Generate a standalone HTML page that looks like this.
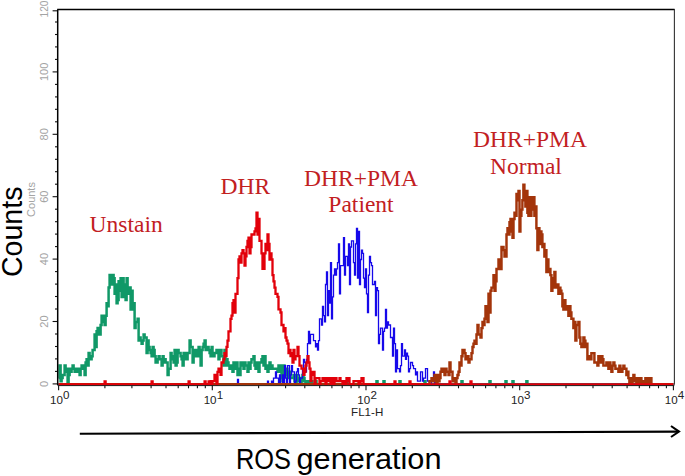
<!DOCTYPE html>
<html><head><meta charset="utf-8"><style>
html,body{margin:0;padding:0;background:#fff;}
body{width:685px;height:476px;overflow:hidden;font-family:"Liberation Sans",sans-serif;}
svg{display:block;}
.sans{font-family:"Liberation Sans",sans-serif;}
.serif{font-family:"Liberation Serif",serif;}
</style></head><body>
<svg width="685" height="476" viewBox="0 0 685 476">
<rect width="685" height="476" fill="#fff"/>
<g fill="none" stroke-linejoin="miter" stroke-linecap="butt">
<path d="M58.6,378.1H59.6V365.6H60.6V381.2H61.6V378.1H62.6V374.9H63.6V374.9H64.6V365.6H65.6V371.8H66.6V368.7H67.6V384.3H68.6V374.9H69.6V368.7H70.6V371.8H71.6V368.7H72.6V365.6H73.6V368.7H74.6V371.8H75.6V368.7H76.6V371.8H77.6V368.7H78.6V368.7H79.6V374.9H80.6V368.7H81.6V365.6H82.6V365.6H83.6V368.7H84.6V374.9H85.6V362.5H86.6V359.3H87.6V365.6H88.6V353.1H89.6V356.2H90.6V359.3H91.6V356.2H92.6V350.0H93.6V350.0H94.6V334.4H95.6V346.9H96.6V331.3H97.6V328.1H98.6V334.4H99.6V334.4H100.6V325.0H101.6V315.7H102.6V321.9H103.6V315.7H104.6V325.0H105.6V315.7H106.6V303.2H107.6V306.3H108.6V287.6H109.6V275.1H110.6V284.5H111.6V284.5H112.6V275.1H113.6V278.2H114.6V293.8H115.6V284.5H116.6V303.2H117.6V300.1H118.6V281.3H119.6V290.7H120.6V278.2H121.6V296.9H122.6V278.2H123.6V284.5H124.6V296.9H125.6V300.1H126.6V278.2H127.6V287.6H128.6V293.8H129.6V287.6H130.6V309.4H131.6V290.7H132.6V309.4H133.6V303.2H134.6V328.1H135.6V321.9H136.6V321.9H137.6V318.8H138.6V340.6H139.6V337.5H140.6V340.6H141.6V343.7H142.6V340.6H143.6V334.4H144.6V337.5H145.6V337.5H146.6V353.1H147.6V340.6H148.6V346.9H149.6V350.0H150.6V353.1H151.6V356.2H152.6V346.9H153.6V350.0H154.6V356.2H155.6V362.5H156.6V362.5H157.6V359.3H158.6V356.2H159.6V359.3H160.6V359.3H161.6V365.6H162.6V356.2H163.6V362.5H164.6V359.3H165.6V362.5H166.6V362.5H167.6V374.9H168.6V368.7H169.6V368.7H170.6V353.1H171.6V359.3H172.6V356.2H173.6V362.5H174.6V350.0H175.6V365.6H176.6V362.5H177.6V350.0H178.6V353.1H179.6V353.1H180.6V356.2H181.6V359.3H182.6V365.6H183.6V353.1H184.6V359.3H185.6V353.1H186.6V359.3H187.6V353.1H188.6V353.1H189.6V340.6H190.6V346.9H191.6V346.9H192.6V362.5H193.6V356.2H194.6V350.0H195.6V350.0H196.6V356.2H197.6V350.0H198.6V346.9H199.6V356.2H200.6V365.6H201.6V350.0H202.6V346.9H203.6V343.7H204.6V340.6H205.6V350.0H206.6V350.0H207.6V346.9H208.6V350.0H209.6V353.1H210.6V356.2H211.6V346.9H212.5V353.1H213.5V356.2H214.5V353.1H215.5V353.1H216.5V350.0H217.5V353.1H218.5V359.3H219.5V350.0H220.5V350.0H221.5V356.2H222.5V356.2H223.5V365.6H224.5V350.0H225.5V365.6H226.5V359.3H227.5V362.5H228.5V365.6H229.5V368.7H230.5V368.7H231.5V365.6H232.5V371.8H233.5V362.5H234.5V362.5H235.5V368.7H236.5V362.5H237.5V374.9H238.5V368.7H239.5V374.9H240.5V362.5H241.5V362.5H242.5V365.6H243.5V368.7H244.5V362.5H245.5V365.6H246.5V365.6H247.5V371.8H248.5V362.5H249.5V368.7H250.5V362.5H251.5V359.3H252.5V359.3H253.5V356.2H254.5V365.6H255.5V368.7H256.5V362.5H257.5V365.6H258.5V371.8H259.5V362.5H260.5V362.5H261.5V359.3H262.5V356.2H263.5V365.6H264.5V356.2H265.5V368.7H266.5V365.6H267.5V371.8H268.5V365.6H269.5V362.5H270.5V368.7H271.5V365.6H272.5V368.7H273.5V368.7H274.5V368.7H275.5V368.7H276.5V368.7H277.5V371.8H278.5V365.6H279.5V371.8H280.5V365.6H281.5V378.1H282.5V381.2H283.5V365.6H284.5V374.9H285.5V374.9H286.5V368.7H287.5V378.1H288.5V374.9H289.5V371.8H290.5V378.1H291.5V378.1H292.5V378.1H293.5V374.9H294.5V381.2H295.5V384.3H296.5V374.9H297.5V378.1H298.5V381.2H299.5V378.1H300.5V384.3H301.5V381.2H302.5V374.9H303.5V378.1H304.5V381.2H305.5V384.3H306.5V381.2H307.5V381.2H308.5V384.3H309.5V381.2H310.5V384.3H311.5V381.2H312.5V384.3H313.5V384.3H314.5V384.3H315.5V381.2H316.5V384.3H317.5V384.3H318.5V384.3H319.5V384.3H320.5V384.3H321.5V384.3H322.5V384.3H323.5V384.3H324.5V384.3H325.5V384.3H326.5V384.3H327.5V384.3H328.5V384.3H329.5V384.3H330.5V384.3H331.5V384.3H332.5V384.3H333.5V384.3H334.5V384.3H335.5V384.3H336.5V384.3H337.5V384.3H338.5V384.3H339.5V384.3H340.5V384.3H341.5V384.3H342.5V384.3H343.5V384.3H344.5V384.3H345.5V384.3H346.5V381.3H347.5V384.3H348.5V384.3H349.5V384.3H350.5V384.3H351.5V384.3H352.5V384.3H353.5V384.3H354.5V384.3H355.5V384.3H356.5V384.3H357.5V384.3H358.5V384.3H359.5V384.3H360.5V384.3H361.5V384.3H362.5V384.3H363.5V384.3H364.5V384.3H365.5V384.3H366.5V384.3H367.5V384.3H368.5V384.3H369.5V384.3H370.5V384.3H371.5V384.3H372.5V384.3H373.5V384.3H374.5V384.3H375.5V384.3H376.5V381.3H377.5V384.3H378.5V384.3H379.5V384.3H380.5V384.3H381.5V384.3H382.5V384.3H383.5V381.3H384.5V384.3H385.5V384.3H386.5V384.3H387.5V384.3H388.5V384.3H389.5V384.3H390.5V384.3H391.5V384.3H392.5V384.3H393.5V384.3H394.5V384.3H395.5V384.3H396.5V384.3H397.5V384.3H398.5V384.3H399.5V381.3H400.5V384.3H401.5V384.3H402.5V384.3H403.5V384.3H404.5V384.3H405.5V384.3H406.5V384.3H407.5V384.3H408.5V384.3H409.5V384.3H410.5V384.3H411.5V384.3H412.5V384.3H413.5V384.3H414.5V384.3H415.5V384.3H416.5V384.3H417.5V384.3H418.5V384.3H419.5V384.3H420.5V384.3H421.5V384.3H422.5V384.3H423.5V384.3H424.5V381.3H425.5V384.3H426.5V384.3H427.5V384.3H428.5V384.3H429.5V384.3H430.5V384.3H431.5V384.3H432.5V384.3H433.5V384.3H434.5V384.3H435.5V384.3H436.5V384.3H437.5V384.3H438.5V384.3H439.5V384.3H440.5V384.3H441.5V384.3H442.5V384.3H443.5V384.3H444.5V384.3H445.5V384.3H446.5V384.3H447.5V384.3H448.5V384.3H449.5V384.3H450.5V384.3H451.5V384.3H452.5V384.3H453.5V384.3H454.5V384.3H455.5V384.3H456.5V384.3H457.5V384.3H458.5V384.3H459.5V384.3H460.5V384.3H461.5V381.3H462.5V384.3H463.5V384.3H464.5V384.3H465.5V384.3H466.5V384.3H467.5V384.3H468.5V384.3H469.5V384.3H470.5V384.3H471.5V384.3H472.5V384.3H473.5V384.3H474.5V384.3H475.5V384.3H476.5V384.3H477.5V384.3H478.5V384.3H479.5V384.3H480.5V384.3H481.5V384.3H482.5V384.3H483.5V384.3H484.5V384.3H485.5V384.3H486.5V384.3H487.5V384.3H488.5V384.3H489.5V381.3H490.5V384.3H491.5V384.3H492.5V384.3H493.5V384.3H494.5V384.3H495.5V384.3H496.5V384.3H497.5V384.3H498.5V384.3H499.5V384.3H500.5V384.3H501.5V384.3H502.5V384.3H503.5V384.3H504.5V384.3H505.5V381.3H506.5V384.3H507.5V384.3H508.5V384.3H509.5V384.3H510.5V384.3H511.5V384.3H512.5V381.3H513.5V384.3H514.5V384.3H515.5V384.3H516.5V384.3H517.5V384.3H518.5V384.3H519.5V384.3H520.4V384.3H521.4V384.3H522.4V384.3H523.4V384.3H524.4V384.3H525.4V384.3H526.4V381.3H527.4V384.3H528.4V384.3H529.4V384.3H530.4V384.3H531.4V384.3H532.4V384.3H533.4V384.3H534.4V384.3H535.4V384.3H536.4V384.3H537.4V384.3H538.4V384.3H539.4V384.3H540.4V384.3H541.4V384.3H542.4V384.3H543.4V384.3H544.4V384.3H545.4V384.3H546.4V384.3H547.4V384.3H548.4V384.3H549.4V384.3H550.4V384.3H551.4V384.3H552.4V384.3H553.4V384.3H554.4V384.3H555.4V384.3H556.4V384.3H557.4V384.3H558.4V384.3H559.4V384.3H560.4V384.3H561.4V384.3H562.4V384.3H563.4V384.3H564.4V384.3H565.4V384.3H566.4V384.3H567.4V384.3H568.4V384.3H569.4V384.3H570.4V384.3H571.4V384.3H572.4V384.3H573.4V384.3H574.4V384.3H575.4V384.3H576.4V384.3H577.4V384.3H578.4V384.3H579.4V384.3H580.4V384.3H581.4V384.3H582.4V384.3H583.4V384.3H584.4V384.3H585.4V384.3H586.4V384.3H587.4V384.3H588.4V384.3H589.4V384.3H590.4V384.3H591.4V384.3H592.4V384.3H593.4V384.3H594.4V384.3H595.4V384.3H596.4V384.3H597.4V384.3H598.4V384.3H599.4V384.3H600.4V384.3H601.4V384.3H602.4V384.3H603.4V384.3H604.4V384.3H605.4V384.3H606.4V384.3H607.4V384.3H608.4V384.3H609.4V384.3H610.4V384.3H611.4V384.3H612.4V384.3H613.4V384.3H614.4V384.3H615.4V384.3H616.4V384.3H617.4V384.3H618.4V384.3H619.4V384.3H620.4V384.3H621.4V384.3H622.4V384.3H623.4V384.3H624.4V384.3H625.4V384.3H626.4V384.3H627.4V384.3H628.4V384.3H629.4V384.3H630.4V384.3H631.4V384.3H632.4V384.3H633.4V384.3H634.4V384.3H635.4V384.3H636.4V384.3H637.4V384.3H638.4V384.3H639.4V384.3H640.4V384.3H641.4V384.3H642.4V384.3H643.4V384.3H644.4V384.3H645.4V384.3H646.4V384.3H647.4V384.3H648.4V384.3H649.4V384.3H650.4V384.3H651.4V384.3H652.4V384.3H653.4V384.3H654.4V384.3H655.4V384.3H656.4V384.3H657.4V384.3H658.4V384.3H659.4V384.3H660.4V384.3H661.4V384.3H662.4V384.3H663.4V384.3H664.4V384.3H665.4V384.3H666.4V384.3H667.4V384.3H668.4V384.3H669.4V384.3H670.4V384.3H671.4V384.3H672.4V384.3H673.4" stroke="#109867" stroke-width="2.5"/>
<path d="M58.6,384.3H59.6V384.3H60.6V384.3H61.6V384.3H62.6V384.3H63.6V384.3H64.6V384.3H65.6V384.3H66.6V384.3H67.6V384.3H68.6V384.3H69.6V384.3H70.6V384.3H71.6V384.3H72.6V384.3H73.6V384.3H74.6V384.3H75.6V384.3H76.6V384.3H77.6V384.3H78.6V384.3H79.6V384.3H80.6V384.3H81.6V384.3H82.6V384.3H83.6V384.3H84.6V384.3H85.6V384.3H86.6V384.3H87.6V384.3H88.6V384.3H89.6V384.3H90.6V384.3H91.6V384.3H92.6V384.3H93.6V384.3H94.6V384.3H95.6V384.3H96.6V384.3H97.6V384.3H98.6V384.3H99.6V384.3H100.6V384.3H101.6V384.3H102.6V384.3H103.6V384.3H104.6V384.3H105.6V384.3H106.6V384.3H107.6V384.3H108.6V384.3H109.6V384.3H110.6V384.3H111.6V384.3H112.6V384.3H113.6V384.3H114.6V384.3H115.6V384.3H116.6V384.3H117.6V384.3H118.6V384.3H119.6V384.3H120.6V384.3H121.6V384.3H122.6V384.3H123.6V384.3H124.6V384.3H125.6V384.3H126.6V384.3H127.6V384.3H128.6V384.3H129.6V384.3H130.6V384.3H131.6V384.3H132.6V384.3H133.6V384.3H134.6V384.3H135.6V384.3H136.6V384.3H137.6V384.3H138.6V384.3H139.6V384.3H140.6V384.3H141.6V384.3H142.6V384.3H143.6V384.3H144.6V384.3H145.6V384.3H146.6V384.3H147.6V384.3H148.6V384.3H149.6V384.3H150.6V384.3H151.6V384.3H152.6V384.3H153.6V384.3H154.6V384.3H155.6V384.3H156.6V384.3H157.6V384.3H158.6V384.3H159.6V384.3H160.6V384.3H161.6V384.3H162.6V384.3H163.6V384.3H164.6V384.3H165.6V384.3H166.6V384.3H167.6V384.3H168.6V384.3H169.6V384.3H170.6V384.3H171.6V384.3H172.6V384.3H173.6V384.3H174.6V384.3H175.6V384.3H176.6V384.3H177.6V384.3H178.6V384.3H179.6V384.3H180.6V384.3H181.6V384.3H182.6V384.3H183.6V384.3H184.6V384.3H185.6V384.3H186.6V384.3H187.6V384.3H188.6V384.3H189.6V384.3H190.6V384.3H191.6V384.3H192.6V384.3H193.6V384.3H194.6V384.3H195.6V384.3H196.6V384.3H197.6V384.3H198.6V384.3H199.6V384.3H200.6V384.3H201.6V384.3H202.6V384.3H203.6V384.3H204.6V384.3H205.6V384.3H206.6V384.3H207.6V384.3H208.6V384.3H209.6V384.3H210.6V384.3H211.6V384.3H212.5V384.3H213.5V384.3H214.5V384.3H215.5V384.3H216.5V384.3H217.5V384.3H218.5V384.3H219.5V384.3H220.5V384.3H221.5V384.3H222.5V384.3H223.5V384.3H224.5V384.3H225.5V384.3H226.5V384.3H227.5V384.3H228.5V384.3H229.5V384.3H230.5V384.3H231.5V384.3H232.5V384.3H233.5V384.3H234.5V384.3H235.5V384.3H236.5V384.3H237.5V379.3H238.5V384.3H239.5V384.3H240.5V384.3H241.5V384.3H242.5V384.3H243.5V384.3H244.5V384.3H245.5V384.3H246.5V384.3H247.5V384.3H248.5V384.3H249.5V384.3H250.5V384.3H251.5V384.3H252.5V384.3H253.5V384.3H254.5V384.3H255.5V384.3H256.5V384.3H257.5V384.3H258.5V384.3H259.5V384.3H260.5V384.3H261.5V384.3H262.5V384.3H263.5V384.3H264.5V384.3H265.5V384.3H266.5V384.3H267.5V381.2H268.5V384.3H269.5V384.3H270.5V384.3H271.5V381.2H272.5V384.3H273.5V378.1H274.5V378.1H275.5V371.8H276.5V378.1H277.5V378.1H278.5V384.3H279.5V374.9H280.5V384.3H281.5V384.3H282.5V374.9H283.5V384.3H284.5V365.6H285.5V378.1H286.5V384.3H287.5V365.6H288.5V365.6H289.5V384.3H290.5V374.9H291.5V365.6H292.5V371.8H293.5V371.8H294.5V384.3H295.5V381.2H296.5V371.8H297.5V368.7H298.5V374.9H299.5V384.3H300.5V378.1H301.5V378.1H302.5V368.7H303.5V359.3H304.5V362.5H305.5V371.8H306.5V359.3H307.5V343.7H308.5V331.3H309.5V343.7H310.5V334.4H311.5V334.4H312.5V334.4H313.5V340.6H314.5V340.6H315.5V346.9H316.5V343.7H317.5V350.0H318.5V340.6H319.5V318.8H320.5V318.8H321.5V325.0H322.5V306.3H323.5V315.7H324.5V321.9H325.5V284.5H326.5V272.0H327.5V315.7H328.5V290.7H329.5V303.2H330.5V262.6H331.5V318.8H332.5V296.9H333.5V275.1H334.5V268.9H335.5V275.1H336.5V268.9H337.5V262.6H338.5V243.9H339.5V293.8H340.5V265.7H341.5V265.7H342.5V265.7H343.5V237.7H344.5V275.1H345.5V256.4H346.5V256.4H347.5V265.7H348.5V243.9H349.5V284.5H350.5V247.0H351.5V240.8H352.5V240.8H353.5V262.6H354.5V275.1H355.5V243.9H356.5V228.3H357.5V278.2H358.5V231.4H359.5V284.5H360.5V259.5H361.5V250.1H362.5V253.3H363.5V278.2H364.5V287.6H365.5V268.9H366.5V293.8H367.5V312.5H368.5V275.1H369.5V256.4H370.5V262.6H371.5V265.7H372.5V284.5H373.5V284.5H374.5V281.3H375.5V315.7H376.5V287.6H377.5V290.7H378.5V343.7H379.5V334.4H380.5V328.1H381.5V328.1H382.5V350.0H383.5V331.3H384.5V328.1H385.5V309.4H386.5V328.1H387.5V321.9H388.5V325.0H389.5V325.0H390.5V337.5H391.5V337.5H392.5V356.2H393.5V328.1H394.5V343.7H395.5V371.8H396.5V350.0H397.5V368.7H398.5V368.7H399.5V371.8H400.5V365.6H401.5V343.7H402.5V356.2H403.5V356.2H404.5V350.0H405.5V359.3H406.5V353.1H407.5V356.2H408.5V371.8H409.5V368.7H410.5V362.5H411.5V362.5H412.5V365.6H413.5V368.7H414.5V368.7H415.5V374.9H416.5V371.8H417.5V381.2H418.5V381.2H419.5V381.2H420.5V371.8H421.5V371.8H422.5V381.2H423.5V378.1H424.5V378.1H425.5V368.7H426.5V368.7H427.5V381.2H428.5V381.2H429.5V384.3H430.5V384.3H431.5V381.2H432.5V381.2H433.5V371.8H434.5V384.3H435.5V378.1H436.5V384.3H437.5V384.3H438.5V384.3H439.5V384.3H440.5V384.3H441.5V384.3H442.5V384.3H443.5V384.3H444.5V384.3H445.5V384.3H446.5V384.3H447.5V384.3H448.5V384.3H449.5V384.3H450.5V384.3H451.5V384.3H452.5V384.3H453.5V384.3H454.5V384.3H455.5V384.3H456.5V384.3H457.5V384.3H458.5V384.3H459.5V384.3H460.5V384.3H461.5V384.3H462.5V384.3H463.5V384.3H464.5V384.3H465.5V384.3H466.5V384.3H467.5V384.3H468.5V384.3H469.5V384.3H470.5V384.3H471.5V384.3H472.5V384.3H473.5V384.3H474.5V384.3H475.5V384.3H476.5V384.3H477.5V384.3H478.5V384.3H479.5V384.3H480.5V384.3H481.5V384.3H482.5V384.3H483.5V384.3H484.5V384.3H485.5V384.3H486.5V384.3H487.5V384.3H488.5V384.3H489.5V384.3H490.5V384.3H491.5V384.3H492.5V384.3H493.5V384.3H494.5V384.3H495.5V384.3H496.5V384.3H497.5V384.3H498.5V384.3H499.5V384.3H500.5V384.3H501.5V384.3H502.5V384.3H503.5V384.3H504.5V384.3H505.5V384.3H506.5V384.3H507.5V384.3H508.5V384.3H509.5V384.3H510.5V384.3H511.5V384.3H512.5V384.3H513.5V384.3H514.5V384.3H515.5V384.3H516.5V384.3H517.5V384.3H518.5V384.3H519.5V384.3H520.4V384.3H521.4V384.3H522.4V384.3H523.4V384.3H524.4V384.3H525.4V384.3H526.4V384.3H527.4V384.3H528.4V384.3H529.4V384.3H530.4V384.3H531.4V384.3H532.4V384.3H533.4V384.3H534.4V384.3H535.4V384.3H536.4V384.3H537.4V384.3H538.4V384.3H539.4V384.3H540.4V384.3H541.4V384.3H542.4V384.3H543.4V384.3H544.4V384.3H545.4V384.3H546.4V384.3H547.4V384.3H548.4V384.3H549.4V384.3H550.4V384.3H551.4V384.3H552.4V384.3H553.4V384.3H554.4V384.3H555.4V384.3H556.4V384.3H557.4V384.3H558.4V384.3H559.4V384.3H560.4V384.3H561.4V384.3H562.4V384.3H563.4V384.3H564.4V384.3H565.4V384.3H566.4V384.3H567.4V384.3H568.4V384.3H569.4V384.3H570.4V384.3H571.4V384.3H572.4V384.3H573.4V384.3H574.4V384.3H575.4V384.3H576.4V384.3H577.4V384.3H578.4V384.3H579.4V384.3H580.4V384.3H581.4V384.3H582.4V384.3H583.4V384.3H584.4V384.3H585.4V384.3H586.4V384.3H587.4V384.3H588.4V384.3H589.4V384.3H590.4V384.3H591.4V384.3H592.4V384.3H593.4V384.3H594.4V384.3H595.4V384.3H596.4V384.3H597.4V384.3H598.4V384.3H599.4V384.3H600.4V384.3H601.4V384.3H602.4V384.3H603.4V384.3H604.4V384.3H605.4V384.3H606.4V384.3H607.4V384.3H608.4V384.3H609.4V384.3H610.4V384.3H611.4V384.3H612.4V384.3H613.4V384.3H614.4V384.3H615.4V384.3H616.4V384.3H617.4V384.3H618.4V384.3H619.4V384.3H620.4V384.3H621.4V384.3H622.4V384.3H623.4V384.3H624.4V384.3H625.4V384.3H626.4V384.3H627.4V384.3H628.4V384.3H629.4V384.3H630.4V384.3H631.4V384.3H632.4V384.3H633.4V384.3H634.4V384.3H635.4V384.3H636.4V384.3H637.4V384.3H638.4V384.3H639.4V384.3H640.4V384.3H641.4V384.3H642.4V384.3H643.4V384.3H644.4V384.3H645.4V384.3H646.4V384.3H647.4V384.3H648.4V384.3H649.4V384.3H650.4V384.3H651.4V384.3H652.4V384.3H653.4V384.3H654.4V384.3H655.4V384.3H656.4V384.3H657.4V384.3H658.4V384.3H659.4V384.3H660.4V384.3H661.4V384.3H662.4V384.3H663.4V384.3H664.4V384.3H665.4V384.3H666.4V384.3H667.4V384.3H668.4V384.3H669.4V384.3H670.4V384.3H671.4V384.3H672.4V384.3H673.4" stroke="#1608ea" stroke-width="1.3"/>
<path d="M58.6,384.3H59.6V384.3H60.6V384.3H61.6V384.3H62.6V384.3H63.6V384.3H64.6V384.3H65.6V384.3H66.6V384.3H67.6V384.3H68.6V384.3H69.6V384.3H70.6V384.3H71.6V384.3H72.6V384.3H73.6V384.3H74.6V384.3H75.6V384.3H76.6V384.3H77.6V384.3H78.6V384.3H79.6V384.3H80.6V384.3H81.6V384.3H82.6V384.3H83.6V384.3H84.6V384.3H85.6V384.3H86.6V384.3H87.6V384.3H88.6V384.3H89.6V384.3H90.6V384.3H91.6V384.3H92.6V384.3H93.6V384.3H94.6V384.3H95.6V384.3H96.6V384.3H97.6V384.3H98.6V384.3H99.6V384.3H100.6V384.3H101.6V384.3H102.6V384.3H103.6V384.3H104.6V384.3H105.6V384.3H106.6V384.3H107.6V384.3H108.6V384.3H109.6V384.3H110.6V384.3H111.6V384.3H112.6V384.3H113.6V384.3H114.6V384.3H115.6V384.3H116.6V384.3H117.6V384.3H118.6V384.3H119.6V384.3H120.6V384.3H121.6V384.3H122.6V384.3H123.6V384.3H124.6V384.3H125.6V384.3H126.6V384.3H127.6V384.3H128.6V384.3H129.6V384.3H130.6V384.3H131.6V384.3H132.6V384.3H133.6V384.3H134.6V384.3H135.6V384.3H136.6V384.3H137.6V384.3H138.6V384.3H139.6V384.3H140.6V384.3H141.6V384.3H142.6V384.3H143.6V384.3H144.6V384.3H145.6V384.3H146.6V384.3H147.6V384.3H148.6V384.3H149.6V384.3H150.6V384.3H151.6V384.3H152.6V384.3H153.6V384.3H154.6V384.3H155.6V384.3H156.6V384.3H157.6V384.3H158.6V384.3H159.6V384.3H160.6V384.3H161.6V384.3H162.6V384.3H163.6V384.3H164.6V384.3H165.6V384.3H166.6V384.3H167.6V384.3H168.6V384.3H169.6V384.3H170.6V384.3H171.6V384.3H172.6V384.3H173.6V384.3H174.6V384.3H175.6V384.3H176.6V384.3H177.6V384.3H178.6V384.3H179.6V384.3H180.6V384.3H181.6V384.3H182.6V384.3H183.6V384.3H184.6V384.3H185.6V384.3H186.6V384.3H187.6V384.3H188.6V384.3H189.6V384.3H190.6V384.3H191.6V384.3H192.6V384.3H193.6V384.3H194.6V384.3H195.6V384.3H196.6V384.3H197.6V384.3H198.6V384.3H199.6V384.3H200.6V384.3H201.6V384.3H202.6V384.3H203.6V384.3H204.6V384.3H205.6V384.3H206.6V384.3H207.6V384.3H208.6V384.3H209.6V384.3H210.6V384.3H211.6V384.3H212.5V384.3H213.5V384.3H214.5V384.3H215.5V384.3H216.5V384.3H217.5V384.3H218.5V384.3H219.5V384.3H220.5V384.3H221.5V384.3H222.5V384.3H223.5V384.3H224.5V384.3H225.5V384.3H226.5V384.3H227.5V384.3H228.5V384.3H229.5V384.3H230.5V384.3H231.5V384.3H232.5V384.3H233.5V384.3H234.5V384.3H235.5V384.3H236.5V384.3H237.5V384.3H238.5V384.3H239.5V384.3H240.5V384.3H241.5V384.3H242.5V384.3H243.5V384.3H244.5V384.3H245.5V384.3H246.5V384.3H247.5V384.3H248.5V384.3H249.5V384.3H250.5V384.3H251.5V384.3H252.5V384.3H253.5V384.3H254.5V384.3H255.5V384.3H256.5V384.3H257.5V384.3H258.5V384.3H259.5V384.3H260.5V384.3H261.5V384.3H262.5V384.3H263.5V384.3H264.5V384.3H265.5V384.3H266.5V384.3H267.5V384.3H268.5V384.3H269.5V384.3H270.5V384.3H271.5V384.3H272.5V384.3H273.5V384.3H274.5V384.3H275.5V384.3H276.5V384.3H277.5V384.3H278.5V384.3H279.5V384.3H280.5V384.3H281.5V384.3H282.5V384.3H283.5V384.3H284.5V384.3H285.5V384.3H286.5V384.3H287.5V384.3H288.5V384.3H289.5V384.3H290.5V384.3H291.5V384.3H292.5V384.3H293.5V384.3H294.5V384.3H295.5V384.3H296.5V384.3H297.5V384.3H298.5V384.3H299.5V384.3H300.5V384.3H301.5V384.3H302.5V384.3H303.5V384.3H304.5V384.3H305.5V384.3H306.5V384.3H307.5V384.3H308.5V384.3H309.5V384.3H310.5V384.3H311.5V384.3H312.5V384.3H313.5V384.3H314.5V384.3H315.5V384.3H316.5V384.3H317.5V384.3H318.5V384.3H319.5V384.3H320.5V384.3H321.5V384.3H322.5V384.3H323.5V384.3H324.5V384.3H325.5V384.3H326.5V384.3H327.5V384.3H328.5V384.3H329.5V384.3H330.5V384.3H331.5V384.3H332.5V384.3H333.5V384.3H334.5V384.3H335.5V384.3H336.5V384.3H337.5V384.3H338.5V384.3H339.5V384.3H340.5V384.3H341.5V384.3H342.5V384.3H343.5V384.3H344.5V384.3H345.5V384.3H346.5V384.3H347.5V384.3H348.5V384.3H349.5V384.3H350.5V384.3H351.5V384.3H352.5V384.3H353.5V384.3H354.5V384.3H355.5V384.3H356.5V384.3H357.5V384.3H358.5V384.3H359.5V384.3H360.5V384.3H361.5V384.3H362.5V384.3H363.5V384.3H364.5V384.3H365.5V384.3H366.5V384.3H367.5V384.3H368.5V384.3H369.5V384.3H370.5V384.3H371.5V384.3H372.5V384.3H373.5V384.3H374.5V384.3H375.5V384.3H376.5V384.3H377.5V384.3H378.5V384.3H379.5V384.3H380.5V384.3H381.5V384.3H382.5V384.3H383.5V384.3H384.5V384.3H385.5V384.3H386.5V384.3H387.5V384.3H388.5V384.3H389.5V384.3H390.5V384.3H391.5V384.3H392.5V384.3H393.5V384.3H394.5V384.3H395.5V384.3H396.5V384.3H397.5V384.3H398.5V384.3H399.5V384.3H400.5V384.3H401.5V384.3H402.5V384.3H403.5V384.3H404.5V384.3H405.5V384.3H406.5V384.3H407.5V384.3H408.5V384.3H409.5V384.3H410.5V384.3H411.5V384.3H412.5V384.3H413.5V384.3H414.5V384.3H415.5V384.3H416.5V384.3H417.5V384.3H418.5V384.3H419.5V384.3H420.5V384.3H421.5V384.3H422.5V384.3H423.5V384.3H424.5V384.3H425.5V384.3H426.5V384.3H427.5V384.3H428.5V384.3H429.5V381.2H430.5V381.2H431.5V378.1H432.5V381.2H433.5V381.2H434.5V374.9H435.5V374.9H436.5V384.3H437.5V374.9H438.5V381.2H439.5V378.1H440.5V371.8H441.5V368.7H442.5V371.8H443.5V368.7H444.5V374.9H445.5V368.7H446.5V371.8H447.5V371.8H448.5V374.9H449.5V362.5H450.5V371.8H451.5V371.8H452.5V381.2H453.5V378.1H454.5V381.2H455.5V384.3H456.5V378.1H457.5V374.9H458.5V371.8H459.5V362.5H460.5V365.6H461.5V356.2H462.5V350.0H463.5V350.0H464.5V353.1H465.5V359.3H466.5V359.3H467.5V356.2H468.5V362.5H469.5V359.3H470.5V359.3H471.5V353.1H472.5V346.9H473.5V343.7H474.5V340.6H475.5V343.7H476.5V334.4H477.5V325.0H478.5V334.4H479.5V334.4H480.5V337.5H481.5V328.1H482.5V321.9H483.5V325.0H484.5V318.8H485.5V306.3H486.5V315.7H487.5V321.9H488.5V293.8H489.5V312.5H490.5V290.7H491.5V287.6H492.5V287.6H493.5V275.1H494.5V290.7H495.5V281.3H496.5V268.9H497.5V268.9H498.5V259.5H499.5V262.6H500.5V268.9H501.5V247.0H502.5V247.0H503.5V250.1H504.5V256.4H505.5V256.4H506.5V234.5H507.5V228.3H508.5V234.5H509.5V222.1H510.5V218.9H511.5V231.4H512.5V237.7H513.5V218.9H514.5V212.7H515.5V215.8H516.5V194.0H517.5V200.2H518.5V190.9H519.5V231.4H520.4V215.8H521.4V209.6H522.4V200.2H523.4V184.6H524.4V197.1H525.4V206.5H526.4V190.9H527.4V212.7H528.4V215.8H529.4V197.1H530.4V215.8H531.4V209.6H532.4V197.1H533.4V197.1H534.4V215.8H535.4V206.5H536.4V228.3H537.4V250.1H538.4V228.3H539.4V243.9H540.4V231.4H541.4V234.5H542.4V247.0H543.4V243.9H544.4V256.4H545.4V250.1H546.4V272.0H547.4V259.5H548.4V272.0H549.4V268.9H550.4V275.1H551.4V290.7H552.4V287.6H553.4V278.2H554.4V272.0H555.4V287.6H556.4V287.6H557.4V284.5H558.4V293.8H559.4V287.6H560.4V290.7H561.4V293.8H562.4V306.3H563.4V309.4H564.4V300.1H565.4V309.4H566.4V309.4H567.4V306.3H568.4V315.7H569.4V306.3H570.4V312.5H571.4V318.8H572.4V318.8H573.4V328.1H574.4V321.9H575.4V340.6H576.4V325.0H577.4V325.0H578.4V321.9H579.4V337.5H580.4V343.7H581.4V346.9H582.4V346.9H583.4V337.5H584.4V340.6H585.4V346.9H586.4V343.7H587.4V359.3H588.4V356.2H589.4V356.2H590.4V359.3H591.4V353.1H592.4V353.1H593.4V353.1H594.4V362.5H595.4V362.5H596.4V362.5H597.4V365.6H598.4V356.2H599.4V359.3H600.4V362.5H601.4V356.2H602.4V359.3H603.4V365.6H604.4V365.6H605.4V365.6H606.4V362.5H607.4V362.5H608.4V368.7H609.4V362.5H610.4V365.6H611.4V371.8H612.4V365.6H613.4V362.5H614.4V365.6H615.4V368.7H616.4V368.7H617.4V368.7H618.4V371.8H619.4V365.6H620.4V368.7H621.4V371.8H622.4V368.7H623.4V365.6H624.4V368.7H625.4V368.7H626.4V374.9H627.4V371.8H628.4V378.1H629.4V384.3H630.4V378.1H631.4V384.3H632.4V381.2H633.4V374.9H634.4V381.2H635.4V378.1H636.4V384.3H637.4V378.1H638.4V384.3H639.4V384.3H640.4V378.1H641.4V384.3H642.4V384.3H643.4V381.2H644.4V384.3H645.4V378.1H646.4V384.3H647.4V378.1H648.4V384.3H649.4V378.1H650.4V378.1H651.4V384.3H652.4V384.3H653.4V384.3H654.4V384.3H655.4V384.3H656.4V384.3H657.4V384.3H658.4V384.3H659.4V384.3H660.4V384.3H661.4V384.3H662.4V384.3H663.4V384.3H664.4V384.3H665.4V384.3H666.4V384.3H667.4V384.3H668.4V384.3H669.4V384.3H670.4V384.3H671.4V384.3H672.4V384.3H673.4" stroke="#a3340a" stroke-width="2.45"/>
<path d="M58.6,384.3H59.6V384.3H60.6V384.3H61.6V384.3H62.6V384.3H63.6V384.3H64.6V384.3H65.6V384.3H66.6V384.3H67.6V384.3H68.6V384.3H69.6V384.3H70.6V384.3H71.6V384.3H72.6V384.3H73.6V384.3H74.6V384.3H75.6V384.3H76.6V384.3H77.6V384.3H78.6V384.3H79.6V384.3H80.6V384.3H81.6V384.3H82.6V384.3H83.6V384.3H84.6V384.3H85.6V384.3H86.6V384.3H87.6V384.3H88.6V384.3H89.6V384.3H90.6V384.3H91.6V384.3H92.6V384.3H93.6V384.3H94.6V384.3H95.6V384.3H96.6V384.3H97.6V384.3H98.6V384.3H99.6V384.3H100.6V384.3H101.6V384.3H102.6V384.3H103.6V384.3H104.6V381.3H105.6V384.3H106.6V384.3H107.6V384.3H108.6V384.3H109.6V384.3H110.6V384.3H111.6V384.3H112.6V384.3H113.6V384.3H114.6V384.3H115.6V384.3H116.6V384.3H117.6V384.3H118.6V384.3H119.6V384.3H120.6V384.3H121.6V384.3H122.6V384.3H123.6V384.3H124.6V384.3H125.6V384.3H126.6V384.3H127.6V384.3H128.6V384.3H129.6V384.3H130.6V384.3H131.6V384.3H132.6V384.3H133.6V384.3H134.6V384.3H135.6V384.3H136.6V384.3H137.6V384.3H138.6V384.3H139.6V384.3H140.6V384.3H141.6V384.3H142.6V384.3H143.6V384.3H144.6V384.3H145.6V384.3H146.6V384.3H147.6V384.3H148.6V384.3H149.6V384.3H150.6V384.3H151.6V381.3H152.6V384.3H153.6V384.3H154.6V384.3H155.6V384.3H156.6V384.3H157.6V384.3H158.6V384.3H159.6V384.3H160.6V384.3H161.6V384.3H162.6V384.3H163.6V384.3H164.6V384.3H165.6V384.3H166.6V384.3H167.6V384.3H168.6V384.3H169.6V384.3H170.6V384.3H171.6V384.3H172.6V384.3H173.6V384.3H174.6V384.3H175.6V384.3H176.6V384.3H177.6V384.3H178.6V384.3H179.6V384.3H180.6V384.3H181.6V384.3H182.6V384.3H183.6V384.3H184.6V384.3H185.6V384.3H186.6V384.3H187.6V384.3H188.6V381.3H189.6V384.3H190.6V384.3H191.6V384.3H192.6V384.3H193.6V384.3H194.6V384.3H195.6V384.3H196.6V384.3H197.6V384.3H198.6V384.3H199.6V384.3H200.6V384.3H201.6V384.3H202.6V384.3H203.6V384.3H204.6V381.3H205.6V384.3H206.6V384.3H207.6V384.3H208.6V381.3H209.6V384.3H210.6V381.2H211.6V384.3H212.5V381.2H213.5V381.2H214.5V374.9H215.5V374.9H216.5V384.3H217.5V371.8H218.5V368.7H219.5V371.8H220.5V374.9H221.5V362.5H222.5V362.5H223.5V359.3H224.5V353.1H225.5V356.2H226.5V346.9H227.5V340.6H228.5V331.3H229.5V331.3H230.5V318.8H231.5V315.7H232.5V303.2H233.5V300.1H234.5V312.5H235.5V293.8H236.5V293.8H237.5V278.2H238.5V259.5H239.5V256.4H240.5V262.6H241.5V253.3H242.5V250.1H243.5V253.3H244.5V265.7H245.5V256.4H246.5V247.0H247.5V240.8H248.5V237.7H249.5V253.3H250.5V247.0H251.5V234.5H252.5V234.5H253.5V234.5H254.5V231.4H255.5V228.3H256.5V212.7H257.5V234.5H258.5V218.9H259.5V240.8H260.5V240.8H261.5V253.3H262.5V268.9H263.5V268.9H264.5V253.3H265.5V243.9H266.5V250.1H267.5V234.5H268.5V243.9H269.5V259.5H270.5V253.3H271.5V259.5H272.5V275.1H273.5V281.3H274.5V287.6H275.5V293.8H276.5V293.8H277.5V296.9H278.5V309.4H279.5V309.4H280.5V312.5H281.5V325.0H282.5V325.0H283.5V331.3H284.5V328.1H285.5V337.5H286.5V340.6H287.5V343.7H288.5V353.1H289.5V350.0H290.5V356.2H291.5V353.1H292.5V362.5H293.5V350.0H294.5V359.3H295.5V356.2H296.5V356.2H297.5V346.9H298.5V356.2H299.5V365.6H300.5V365.6H301.5V368.7H302.5V368.7H303.5V374.9H304.5V371.8H305.5V365.6H306.5V362.5H307.5V356.2H308.5V362.5H309.5V368.7H310.5V381.2H311.5V374.9H312.5V371.8H313.5V371.8H314.5V384.3H315.5V378.1H316.5V378.1H317.5V378.1H318.5V378.1H319.5V384.3H320.5V381.2H321.5V381.2H322.5V378.1H323.5V381.2H324.5V378.1H325.5V384.3H326.5V378.1H327.5V381.2H328.5V381.2H329.5V378.1H330.5V384.3H331.5V384.3H332.5V378.1H333.5V384.3H334.5V381.2H335.5V378.1H336.5V381.2H337.5V381.2H338.5V381.2H339.5V378.1H340.5V381.2H341.5V381.2H342.5V384.3H343.5V381.2H344.5V381.2H345.5V384.3H346.5V378.1H347.5V381.2H348.5V378.1H349.5V384.3H350.5V384.3H351.5V384.3H352.5V384.3H353.5V381.2H354.5V381.2H355.5V381.2H356.5V381.2H357.5V381.2H358.5V384.3H359.5V384.3H360.5V381.2H361.5V378.1H362.5V378.1H363.5V384.3H364.5V384.3H365.5V384.3H366.5V384.3H367.5V384.3H368.5V384.3H369.5V384.3H370.5V384.3H371.5V384.3H372.5V384.3H373.5V384.3H374.5V384.3H375.5V384.3H376.5V384.3H377.5V384.3H378.5V384.3H379.5V384.3H380.5V384.3H381.5V384.3H382.5V384.3H383.5V384.3H384.5V384.3H385.5V384.3H386.5V384.3H387.5V384.3H388.5V384.3H389.5V384.3H390.5V384.3H391.5V384.3H392.5V384.3H393.5V384.3H394.5V381.3H395.5V384.3H396.5V384.3H397.5V384.3H398.5V384.3H399.5V384.3H400.5V384.3H401.5V384.3H402.5V384.3H403.5V384.3H404.5V384.3H405.5V384.3H406.5V384.3H407.5V384.3H408.5V384.3H409.5V381.3H410.5V384.3H411.5V384.3H412.5V384.3H413.5V384.3H414.5V384.3H415.5V384.3H416.5V384.3H417.5V384.3H418.5V384.3H419.5V384.3H420.5V384.3H421.5V384.3H422.5V384.3H423.5V384.3H424.5V384.3H425.5V384.3H426.5V384.3H427.5V384.3H428.5V384.3H429.5V384.3H430.5V384.3H431.5V384.3H432.5V384.3H433.5V384.3H434.5V384.3H435.5V384.3H436.5V384.3H437.5V384.3H438.5V384.3H439.5V384.3H440.5V384.3H441.5V384.3H442.5V384.3H443.5V384.3H444.5V384.3H445.5V384.3H446.5V384.3H447.5V384.3H448.5V384.3H449.5V381.3H450.5V384.3H451.5V384.3H452.5V384.3H453.5V384.3H454.5V384.3H455.5V384.3H456.5V384.3H457.5V384.3H458.5V384.3H459.5V384.3H460.5V384.3H461.5V384.3H462.5V384.3H463.5V384.3H464.5V384.3H465.5V384.3H466.5V384.3H467.5V384.3H468.5V384.3H469.5V384.3H470.5V381.3H471.5V384.3H472.5V384.3H473.5V384.3H474.5V384.3H475.5V384.3H476.5V384.3H477.5V384.3H478.5V384.3H479.5V384.3H480.5V384.3H481.5V384.3H482.5V384.3H483.5V384.3H484.5V384.3H485.5V384.3H486.5V384.3H487.5V384.3H488.5V384.3H489.5V384.3H490.5V384.3H491.5V384.3H492.5V384.3H493.5V384.3H494.5V384.3H495.5V384.3H496.5V384.3H497.5V384.3H498.5V384.3H499.5V384.3H500.5V384.3H501.5V384.3H502.5V384.3H503.5V384.3H504.5V384.3H505.5V384.3H506.5V384.3H507.5V384.3H508.5V384.3H509.5V384.3H510.5V384.3H511.5V384.3H512.5V384.3H513.5V384.3H514.5V384.3H515.5V384.3H516.5V384.3H517.5V384.3H518.5V384.3H519.5V384.3H520.4V384.3H521.4V384.3H522.4V384.3H523.4V384.3H524.4V384.3H525.4V384.3H526.4V384.3H527.4V384.3H528.4V384.3H529.4V384.3H530.4V384.3H531.4V384.3H532.4V384.3H533.4V384.3H534.4V384.3H535.4V384.3H536.4V384.3H537.4V384.3H538.4V384.3H539.4V384.3H540.4V384.3H541.4V384.3H542.4V384.3H543.4V384.3H544.4V384.3H545.4V384.3H546.4V384.3H547.4V384.3H548.4V384.3H549.4V384.3H550.4V384.3H551.4V384.3H552.4V384.3H553.4V384.3H554.4V384.3H555.4V384.3H556.4V384.3H557.4V384.3H558.4V384.3H559.4V384.3H560.4V384.3H561.4V384.3H562.4V384.3H563.4V384.3H564.4V384.3H565.4V384.3H566.4V384.3H567.4V384.3H568.4V384.3H569.4V384.3H570.4V384.3H571.4V384.3H572.4V384.3H573.4V384.3H574.4V384.3H575.4V384.3H576.4V384.3H577.4V384.3H578.4V384.3H579.4V384.3H580.4V384.3H581.4V384.3H582.4V384.3H583.4V384.3H584.4V384.3H585.4V384.3H586.4V384.3H587.4V384.3H588.4V384.3H589.4V384.3H590.4V384.3H591.4V384.3H592.4V384.3H593.4V384.3H594.4V384.3H595.4V384.3H596.4V384.3H597.4V384.3H598.4V384.3H599.4V384.3H600.4V384.3H601.4V384.3H602.4V384.3H603.4V384.3H604.4V384.3H605.4V384.3H606.4V384.3H607.4V384.3H608.4V384.3H609.4V384.3H610.4V384.3H611.4V384.3H612.4V384.3H613.4V384.3H614.4V384.3H615.4V384.3H616.4V384.3H617.4V384.3H618.4V384.3H619.4V384.3H620.4V384.3H621.4V384.3H622.4V384.3H623.4V384.3H624.4V384.3H625.4V384.3H626.4V384.3H627.4V384.3H628.4V384.3H629.4V384.3H630.4V384.3H631.4V384.3H632.4V384.3H633.4V384.3H634.4V384.3H635.4V384.3H636.4V384.3H637.4V384.3H638.4V384.3H639.4V384.3H640.4V384.3H641.4V384.3H642.4V384.3H643.4V384.3H644.4V384.3H645.4V384.3H646.4V384.3H647.4V384.3H648.4V384.3H649.4V384.3H650.4V384.3H651.4V384.3H652.4V384.3H653.4V384.3H654.4V384.3H655.4V384.3H656.4V384.3H657.4V384.3H658.4V384.3H659.4V384.3H660.4V384.3H661.4V384.3H662.4V384.3H663.4V384.3H664.4V384.3H665.4V384.3H666.4V384.3H667.4V384.3H668.4V384.3H669.4V384.3H670.4V384.3H671.4V384.3H672.4V384.3H673.4" stroke="#e2000a" stroke-width="2.3"/>
</g>
<g stroke="#111" stroke-width="1.1">
<line x1="52.6" y1="383.9" x2="58" y2="383.9"/><line x1="55.0" y1="371.4" x2="58" y2="371.4"/><line x1="55.0" y1="358.9" x2="58" y2="358.9"/><line x1="55.0" y1="346.5" x2="58" y2="346.5"/><line x1="55.0" y1="334.0" x2="58" y2="334.0"/><line x1="52.6" y1="321.5" x2="58" y2="321.5"/><line x1="55.0" y1="309.0" x2="58" y2="309.0"/><line x1="55.0" y1="296.5" x2="58" y2="296.5"/><line x1="55.0" y1="284.1" x2="58" y2="284.1"/><line x1="55.0" y1="271.6" x2="58" y2="271.6"/><line x1="52.6" y1="259.1" x2="58" y2="259.1"/><line x1="55.0" y1="246.6" x2="58" y2="246.6"/><line x1="55.0" y1="234.1" x2="58" y2="234.1"/><line x1="55.0" y1="221.7" x2="58" y2="221.7"/><line x1="55.0" y1="209.2" x2="58" y2="209.2"/><line x1="52.6" y1="196.7" x2="58" y2="196.7"/><line x1="55.0" y1="184.2" x2="58" y2="184.2"/><line x1="55.0" y1="171.7" x2="58" y2="171.7"/><line x1="55.0" y1="159.3" x2="58" y2="159.3"/><line x1="55.0" y1="146.8" x2="58" y2="146.8"/><line x1="52.6" y1="134.3" x2="58" y2="134.3"/><line x1="55.0" y1="121.8" x2="58" y2="121.8"/><line x1="55.0" y1="109.3" x2="58" y2="109.3"/><line x1="55.0" y1="96.9" x2="58" y2="96.9"/><line x1="55.0" y1="84.4" x2="58" y2="84.4"/><line x1="52.6" y1="71.9" x2="58" y2="71.9"/><line x1="55.0" y1="59.4" x2="58" y2="59.4"/><line x1="55.0" y1="46.9" x2="58" y2="46.9"/><line x1="55.0" y1="34.5" x2="58" y2="34.5"/><line x1="55.0" y1="22.0" x2="58" y2="22.0"/><line x1="52.6" y1="10.8" x2="58" y2="10.8"/><line x1="58.6" y1="385" x2="58.6" y2="390.3"/><line x1="104.9" y1="385" x2="104.9" y2="388.3"/><line x1="131.9" y1="385" x2="131.9" y2="388.3"/><line x1="151.1" y1="385" x2="151.1" y2="388.3"/><line x1="166.0" y1="385" x2="166.0" y2="388.3"/><line x1="178.2" y1="385" x2="178.2" y2="388.3"/><line x1="188.5" y1="385" x2="188.5" y2="388.3"/><line x1="197.4" y1="385" x2="197.4" y2="388.3"/><line x1="205.3" y1="385" x2="205.3" y2="388.3"/><line x1="212.3" y1="385" x2="212.3" y2="390.3"/><line x1="258.6" y1="385" x2="258.6" y2="388.3"/><line x1="285.6" y1="385" x2="285.6" y2="388.3"/><line x1="304.8" y1="385" x2="304.8" y2="388.3"/><line x1="319.7" y1="385" x2="319.7" y2="388.3"/><line x1="331.9" y1="385" x2="331.9" y2="388.3"/><line x1="342.2" y1="385" x2="342.2" y2="388.3"/><line x1="351.1" y1="385" x2="351.1" y2="388.3"/><line x1="359.0" y1="385" x2="359.0" y2="388.3"/><line x1="366.0" y1="385" x2="366.0" y2="390.3"/><line x1="412.3" y1="385" x2="412.3" y2="388.3"/><line x1="439.3" y1="385" x2="439.3" y2="388.3"/><line x1="458.5" y1="385" x2="458.5" y2="388.3"/><line x1="473.4" y1="385" x2="473.4" y2="388.3"/><line x1="485.6" y1="385" x2="485.6" y2="388.3"/><line x1="495.9" y1="385" x2="495.9" y2="388.3"/><line x1="504.8" y1="385" x2="504.8" y2="388.3"/><line x1="512.7" y1="385" x2="512.7" y2="388.3"/><line x1="519.7" y1="385" x2="519.7" y2="390.3"/><line x1="566.0" y1="385" x2="566.0" y2="388.3"/><line x1="593.0" y1="385" x2="593.0" y2="388.3"/><line x1="612.2" y1="385" x2="612.2" y2="388.3"/><line x1="627.1" y1="385" x2="627.1" y2="388.3"/><line x1="639.3" y1="385" x2="639.3" y2="388.3"/><line x1="649.6" y1="385" x2="649.6" y2="388.3"/><line x1="658.5" y1="385" x2="658.5" y2="388.3"/><line x1="666.4" y1="385" x2="666.4" y2="388.3"/><line x1="673.4" y1="385" x2="673.4" y2="390.3"/>
</g>
<line x1="57.7" y1="9.6" x2="57.7" y2="385.2" stroke="#000" stroke-width="1.5"/>
<line x1="57.2" y1="9.5" x2="674.6" y2="9.5" stroke="#000" stroke-width="1.7"/>
<line x1="674.4" y1="9" x2="674.4" y2="384.8" stroke="#333" stroke-width="1.1"/>
<line x1="57.7" y1="385.6" x2="674.4" y2="385.6" stroke="#222" stroke-width="1"/>
<g class="sans" font-size="11" fill="#a4a4a4">
<text transform="translate(47.6,383.9) rotate(-90)" text-anchor="middle">0</text><text transform="translate(47.6,321.5) rotate(-90)" text-anchor="middle">20</text><text transform="translate(47.6,259.1) rotate(-90)" text-anchor="middle">40</text><text transform="translate(47.6,196.7) rotate(-90)" text-anchor="middle">60</text><text transform="translate(47.6,134.3) rotate(-90)" text-anchor="middle">80</text><text transform="translate(47.6,71.9) rotate(-90)" text-anchor="middle">100</text><text transform="translate(47.6,9.0) rotate(-90)" text-anchor="middle" font-size="10.2">120</text>
<text transform="translate(35.2,199.5) rotate(-90)" text-anchor="middle">Counts</text>
</g>
<g class="sans" font-size="11.6" fill="#222">
<text x="56.4" y="403.8" text-anchor="middle">10</text><text x="63.0" y="399.0">0</text><text x="210.1" y="403.8" text-anchor="middle">10</text><text x="216.7" y="399.0">1</text><text x="363.8" y="403.8" text-anchor="middle">10</text><text x="370.4" y="399.0">2</text><text x="517.5" y="403.8" text-anchor="middle">10</text><text x="524.1" y="399.0">3</text><text x="671.2" y="403.8" text-anchor="middle">10</text><text x="677.8" y="399.0">4</text>
<text x="367.2" y="416" text-anchor="middle">FL1-H</text>
</g>
<g class="serif" font-size="23.5" fill="#c2201f">
<text x="89.6" y="232">Unstain</text>
<text x="220.6" y="193.5">DHR</text>
<text x="361" y="185.5" text-anchor="middle">DHR+PMA</text>
<text x="361" y="212.4" text-anchor="middle">Patient</text>
<text x="530" y="146.9" text-anchor="middle">DHR+PMA</text>
<text x="526" y="173.5" text-anchor="middle">Normal</text>
</g>
<g class="sans" font-size="28.6" fill="#000">
<text transform="translate(22.2,231.8) rotate(-90)" text-anchor="middle">Counts</text>
<text x="236" y="468.6" textLength="55" lengthAdjust="spacingAndGlyphs">ROS</text>
<text x="296.5" y="468.6" textLength="145" lengthAdjust="spacingAndGlyphs">generation</text>
</g>
<g stroke="#000" stroke-width="2.1" fill="none" stroke-linecap="butt">
<line x1="79.8" y1="433.7" x2="678.5" y2="431.6"/>
<polyline points="671.0,426.0 679.0,431.6 671.0,437.0" stroke-linejoin="miter"/>
</g>
</svg>
</body></html>
